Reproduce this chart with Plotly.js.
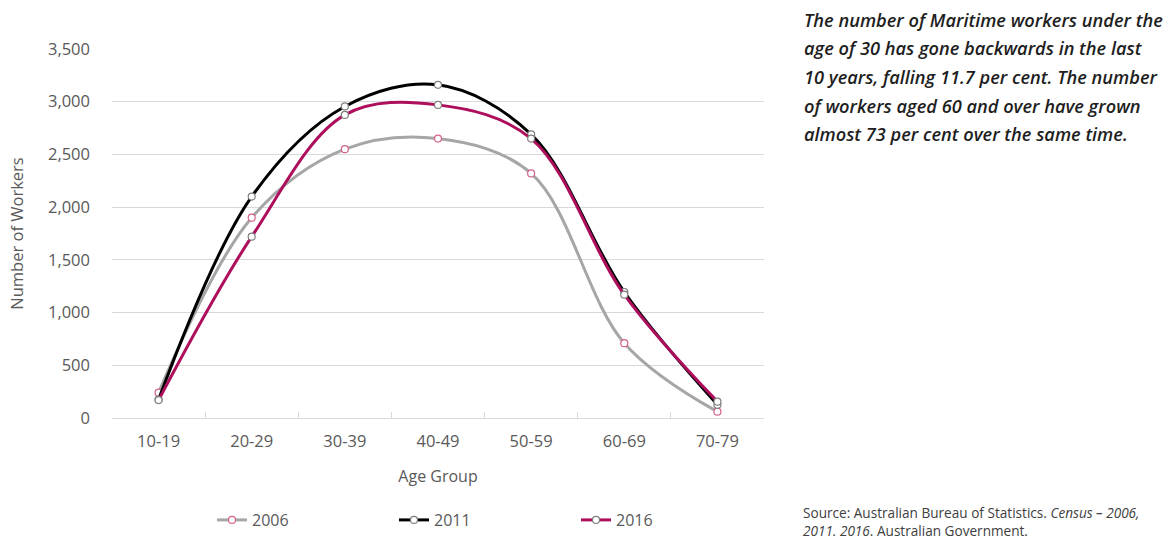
<!DOCTYPE html>
<html><head><meta charset="utf-8">
<script src="https://cdn.plot.ly/plotly-3.0.1.min.js"></script>
<style>html,body{margin:0;padding:0;background:#fff;}#chart{width:1166px;height:541px;}</style>
</head><body><div id="chart"></div>
<script>
const ageGroups = ['10-19','20-29','30-39','40-49','50-59','60-69','70-79'];
const workers2006 = [240, 1900, 2550, 2650, 2320, 710, 60];
const workers2011 = [175, 2100, 2955, 3160, 2690, 1195, 125];
const workers2016 = [170, 1720, 2875, 2970, 2650, 1170, 155];
const yTicks = [0, 500, 1000, 1500, 2000, 2500, 3000, 3500];
const noteLines = [
  'The number of Maritime workers under the',
  'age of 30 has gone backwards in the last',
  '10 years, falling 11.7 per cent. The number',
  'of workers aged 60 and over have grown',
  'almost 73 per cent over the same time.'
];
const sourceLines = [
  'Source: Australian Bureau of Statistics. <i>Census – 2006,</i>',
  '<i>2011. 2016</i>. Australian Government.'
];

const font = 'Open Sans, sans-serif';
function trace(name, y, lineColor, mLine) {
  return {x: ageGroups, y: y, name: name, type: 'scatter', mode: 'lines+markers',
    line: {color: lineColor, width: 3, shape: 'spline', smoothing: 1},
    marker: {symbol: 'circle', size: 7, color: '#ffffff', line: {color: mLine, width: 1.2}},
    cliponaxis: false};
}
const data = [
  trace('2006', workers2006, '#a6a6a6', '#d2628d'),
  trace('2011', workers2011, '#000000', '#7f7f7f'),
  trace('2016', workers2016, '#ad0f5c', '#7f7f7f')
];

const pl = 112, pr = 764, pt = 49, pb = 418;
const pw = pr - pl, ph = pb - pt;
function px(x){ return (x - pl) / pw; }
function py(y){ return (pb - y) / ph; }

const annotations = [];
const noteY = [20, 48, 77, 106, 134];
noteLines.forEach((t, i) => annotations.push({
  xref: 'paper', yref: 'paper', x: px(802), y: py(noteY[i]), xanchor: 'left', yanchor: 'middle',
  text: t, showarrow: false, align: 'left',
  font: {family: font, size: 18.2, color: '#1e1e1e', weight: 600, style: 'italic'}
}));
annotations.push({xref: 'paper', yref: 'paper', x: px(802), y: py(521), xanchor: 'left', yanchor: 'middle',
  text: sourceLines.join('<br>'), showarrow: false, align: 'left', borderpad: 0,
  font: {family: font, size: 13.6, color: '#404040'}});

const layout = {
  width: 1166, height: 541,
  margin: {l: pl, r: 1166 - pr, t: pt, b: 541 - pb, pad: 0, autoexpand: false},
  paper_bgcolor: '#ffffff', plot_bgcolor: '#ffffff',
  font: {family: font, size: 16, color: '#595959'},
  showlegend: true,
  legend: {orientation: 'h', x: px(212), y: py(520), xanchor: 'left', yanchor: 'middle',
    itemwidth: 30, entrywidth: 137, font: {family: font, size: 16, color: '#595959'}, traceorder: 'normal'},
  xaxis: {type: 'category', range: [-0.5, 6.5], showgrid: false, zeroline: false,
    showline: true, linecolor: '#d9d9d9', linewidth: 1,
    ticks: 'inside', tickson: 'boundaries', ticklen: 6, tickcolor: '#d9d9d9',
    ticklabelstandoff: 8,
    tickfont: {family: font, size: 16.5, color: '#595959'},
    title: {text: 'Age Group', font: {family: font, size: 16, color: '#595959'}, standoff: 20},
    fixedrange: true, automargin: false},
  yaxis: {range: [0, 3500], tickvals: yTicks, ticktext: yTicks.map(v => v.toLocaleString('en-US')),
    showgrid: true, gridcolor: '#d9d9d9', gridwidth: 1, zeroline: false, showline: false,
    ticks: '', ticklabelstandoff: 21,
    tickfont: {family: font, size: 16.5, color: '#595959'},
    title: {text: 'Number of Workers', font: {family: font, size: 16.5, color: '#595959'}, standoff: 20},
    fixedrange: true, automargin: false},
  annotations: annotations
};
Plotly.newPlot('chart', data, layout, {displayModeBar: false, staticPlot: true});
</script></body></html>
